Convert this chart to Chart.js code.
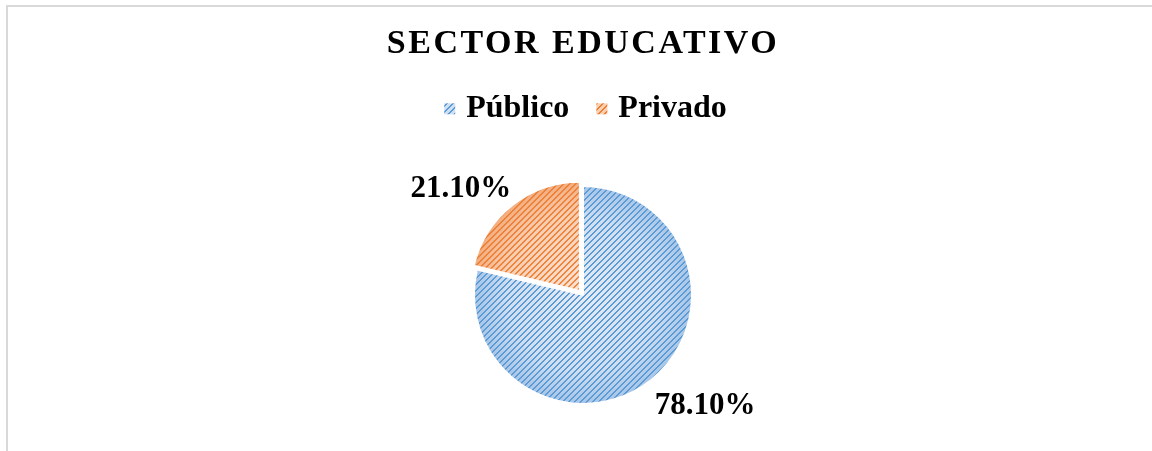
<!DOCTYPE html>
<html><head><meta charset="utf-8">
<script src="https://cdn.jsdelivr.net/npm/chart.js@4"></script>
<style>
html,body{margin:0;padding:0;background:#fff;width:1152px;height:451px;overflow:hidden;}
#frame{position:absolute;left:6px;top:5px;width:1200px;height:500px;border-left:2px solid #d9d9d9;border-top:2px solid #d9d9d9;}
#wrap{position:absolute;left:8px;top:7px;width:1150px;height:448px;}
</style></head><body>
<div id="frame"></div>
<div id="wrap"><canvas id="c"></canvas></div>
<script>
const chartTitle = 'SECTOR EDUCATIVO';
const categories = ['Público', 'Privado'];
const values = [78.1, 21.1];
const stripeColors = ['#5b9bd5', '#ed7d31'];
const legendBg = ['#cfdff2', '#f9cfb2'];
const gradInner = ['#e3ebf6', '#fbe4d6'];
const gradMid = ['#cfdef1', '#f8cfb3'];
const gradOuter = ['#a6c5e8', '#f3ae80'];
const offsets = [0, 20];

const FONT = '"Liberation Serif", "Times New Roman", serif';

function hatch(bg, fg){
  const n = 6;
  const c = document.createElement('canvas'); c.width = n; c.height = n;
  const x = c.getContext('2d');
  if (bg) { x.fillStyle = bg; x.fillRect(0,0,n,n); }
  x.fillStyle = fg;
  for (let i = 0; i < n; i++) for (let j = 0; j < n; j++) {
    if (((i + j) % n) < 2) x.fillRect(i, j, 1, 1);
  }
  return x.createPattern(c, 'repeat');
}
const slicePatterns = stripeColors.map(c => hatch(null, c));
const legendPatterns = stripeColors.map((c,i) => hatch(legendBg[i], c));

function arcGeom(arc){
  const p = arc.getProps(['x','y','startAngle','endAngle','outerRadius'], true);
  const off = (arc.options.offset || 0) / 4;
  const mid = (p.startAngle + p.endAngle) / 2;
  return {cx: p.x + Math.cos(mid)*off, cy: p.y + Math.sin(mid)*off, x: p.x, y: p.y, r: p.outerRadius, s: p.startAngle, e: p.endAngle, mid};
}

const gradPlugin = {
  id: 'gradBase',
  beforeDatasetsDraw(chart){
    const ctx = chart.ctx;
    chart.getDatasetMeta(0).data.forEach((arc, i) => {
      const g = arcGeom(arc);
      const gr = ctx.createRadialGradient(g.cx, g.cy, 0, g.cx, g.cy, g.r);
      gr.addColorStop(0, gradInner[i]); gr.addColorStop(0.7, gradMid[i]); gr.addColorStop(1, gradOuter[i]);
      ctx.save();
      ctx.beginPath(); ctx.moveTo(g.cx, g.cy); ctx.arc(g.cx, g.cy, g.r, g.s, g.e); ctx.closePath();
      ctx.fillStyle = gr; ctx.fill();
      ctx.restore();
    });
  }
};

const labelPlugin = {
  id: 'sliceLabels',
  afterDatasetsDraw(chart){
    const ctx = chart.ctx;
    ctx.save();
    ctx.font = 'bold 31px ' + FONT;
    ctx.fillStyle = '#000';
    ctx.textBaseline = 'alphabetic';
    chart.getDatasetMeta(0).data.forEach((arc, i) => {
      const g = arcGeom(arc);
      const d = g.r + 7;
      const ax = g.x + Math.cos(g.mid)*d, ay = g.y + Math.sin(g.mid)*d;
      const txt = values[i].toFixed(2) + '%';
      const m = ctx.measureText(txt);
      const right = Math.cos(g.mid) >= 0, below = Math.sin(g.mid) >= 0;
      ctx.textAlign = right ? 'left' : 'right';
      const by = below ? ay + m.fontBoundingBoxAscent : ay - m.fontBoundingBoxDescent;
      ctx.fillText(txt, ax, by);
    });
    ctx.restore();
  }
};

const legendMarkerPlugin = {
  id: 'legendMarkers',
  afterDraw(chart){
    const lg = chart.legend; if (!lg || !lg.legendHitBoxes) return;
    const ctx = chart.ctx;
    ctx.save();
    lg.legendHitBoxes.forEach((h, i) => {
      const size = 11;
      const x = h.left + 5, y = h.top + (h.height - size) / 2;
      ctx.fillStyle = legendPatterns[i];
      ctx.fillRect(x, y, size, size);
    });
    ctx.restore();
  }
};

const spacingPlugin = {
  id: 'titleSpacing',
  afterInit(chart){
    const tb = chart.titleBlock;
    if (tb && !tb._wrapped) {
      const orig = tb.draw;
      tb.draw = function(){ const ctx = chart.ctx; ctx.save(); try { ctx.letterSpacing = '2.5px'; } catch(e){} orig.apply(this, arguments); ctx.restore(); };
      tb._wrapped = true;
    }
  }
};

new Chart(document.getElementById('c'), {
  type: 'pie',
  data: {
    labels: categories,
    datasets: [{
      data: values,
      backgroundColor: slicePatterns,
      borderColor: '#ffffff',
      borderWidth: 2,
      offset: offsets
    }]
  },
  options: {
    responsive: true,
    maintainAspectRatio: false,
    animation: false,
    events: [],
    radius: 109,
    layout: { padding: { bottom: 0 } },
    plugins: {
      tooltip: { enabled: false },
      title: {
        display: true, text: chartTitle, color: '#000',
        font: { family: FONT, size: 34, weight: 'bold' },
        padding: { top: 17, bottom: 6 }
      },
      legend: {
        display: true, position: 'top',
        labels: {
          boxWidth: 11, boxHeight: 11, padding: 22, color: '#000',
          font: { family: FONT, size: 32, weight: 'bold' },
          generateLabels(chart){
            const items = Chart.overrides.pie.plugins.legend.labels.generateLabels(chart);
            items.forEach(it => { it.fillStyle = 'rgba(0,0,0,0)'; it.lineWidth = 0; it.strokeStyle = 'rgba(0,0,0,0)'; });
            return items;
          }
        }
      }
    }
  },
  plugins: [gradPlugin, labelPlugin, legendMarkerPlugin, spacingPlugin]
});
</script>
</body></html>
